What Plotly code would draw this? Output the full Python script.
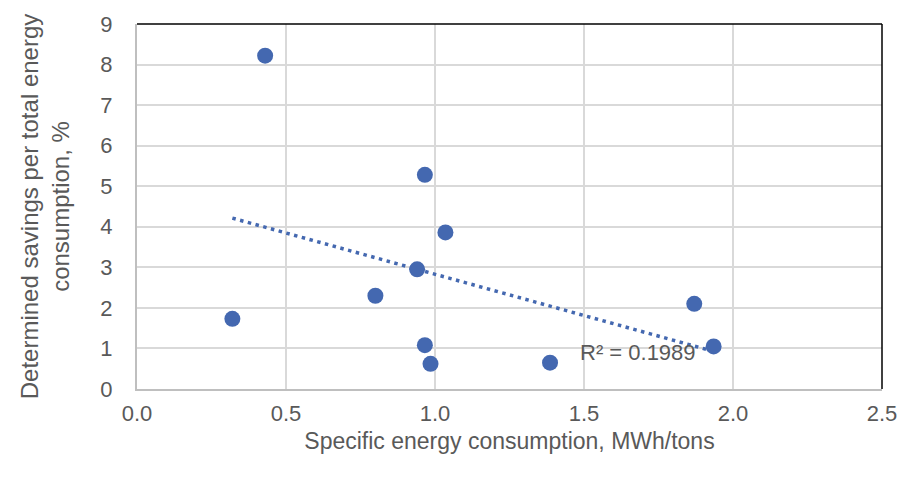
import numpy as np
import plotly.graph_objects as go

x_vals = [0.43, 0.32, 0.80, 0.94, 0.966, 0.966, 0.985, 1.035, 1.386, 1.87, 1.935]
y_vals = [8.22, 1.73, 2.30, 2.95, 5.28, 1.08, 0.62, 3.86, 0.65, 2.10, 1.05]
r2_label = "R² = 0.1989"
x_title = "Specific energy consumption, MWh/tons"
y_title = "Determined savings per total energy<br>consumption, %"

blue = "#4468B0"
grey = "#595959"
font_family = "Liberation Sans Narrow, Arial Narrow, Liberation Sans, Arial"

slope, intercept = np.polyfit(x_vals, y_vals, 1)
tx = [min(x_vals), max(x_vals)]
ty = [slope * v + intercept for v in tx]

fig = go.Figure()
fig.add_trace(go.Scatter(x=tx, y=ty, mode="lines",
                         line=dict(color=blue, width=3.5, dash="3.5px,4.5px"),
                         hoverinfo="skip", showlegend=False))
fig.add_trace(go.Scatter(x=x_vals, y=y_vals, mode="markers",
                         marker=dict(color=blue, size=16), showlegend=False))

fig.add_annotation(x=1.68, y=0.9, text=r2_label, showarrow=False,
                   font=dict(size=22, color=grey, family=font_family),
                   xref="x", yref="y")

fig.update_layout(
    width=909, height=478,
    margin=dict(l=137, r=16, t=24, b=89),
    paper_bgcolor="white", plot_bgcolor="white",
    font=dict(family=font_family, color=grey),
    xaxis=dict(range=[0, 2.5], dtick=0.5, tickformat=".1f",
               showgrid=True, gridcolor="#D9D9D9", gridwidth=2,
               showline=True, linecolor="#BFBFBF", linewidth=2,
               zeroline=False, ticks="outside", ticklen=4, tickcolor="rgba(0,0,0,0)",
               tickfont=dict(size=22, color=grey),
               title=dict(text=x_title, font=dict(size=23, color=grey), standoff=7)),
    yaxis=dict(range=[0, 9], dtick=1,
               showgrid=True, gridcolor="#D9D9D9", gridwidth=2,
               showline=True, linecolor="#BFBFBF", linewidth=2,
               zeroline=False, ticks="outside", ticklen=18, tickcolor="rgba(0,0,0,0)",
               tickfont=dict(size=22, color=grey),
               title=dict(text=y_title, font=dict(size=24, color=grey), standoff=24)),
)
fig.add_shape(type="line", xref="paper", yref="paper", x0=0, x1=1, y0=1, y1=1,
              line=dict(color="black", width=1.5))
fig.add_shape(type="line", xref="paper", yref="paper", x0=1, x1=1, y0=0, y1=1,
              line=dict(color="black", width=1.5))

fig.write_html("out.html")
